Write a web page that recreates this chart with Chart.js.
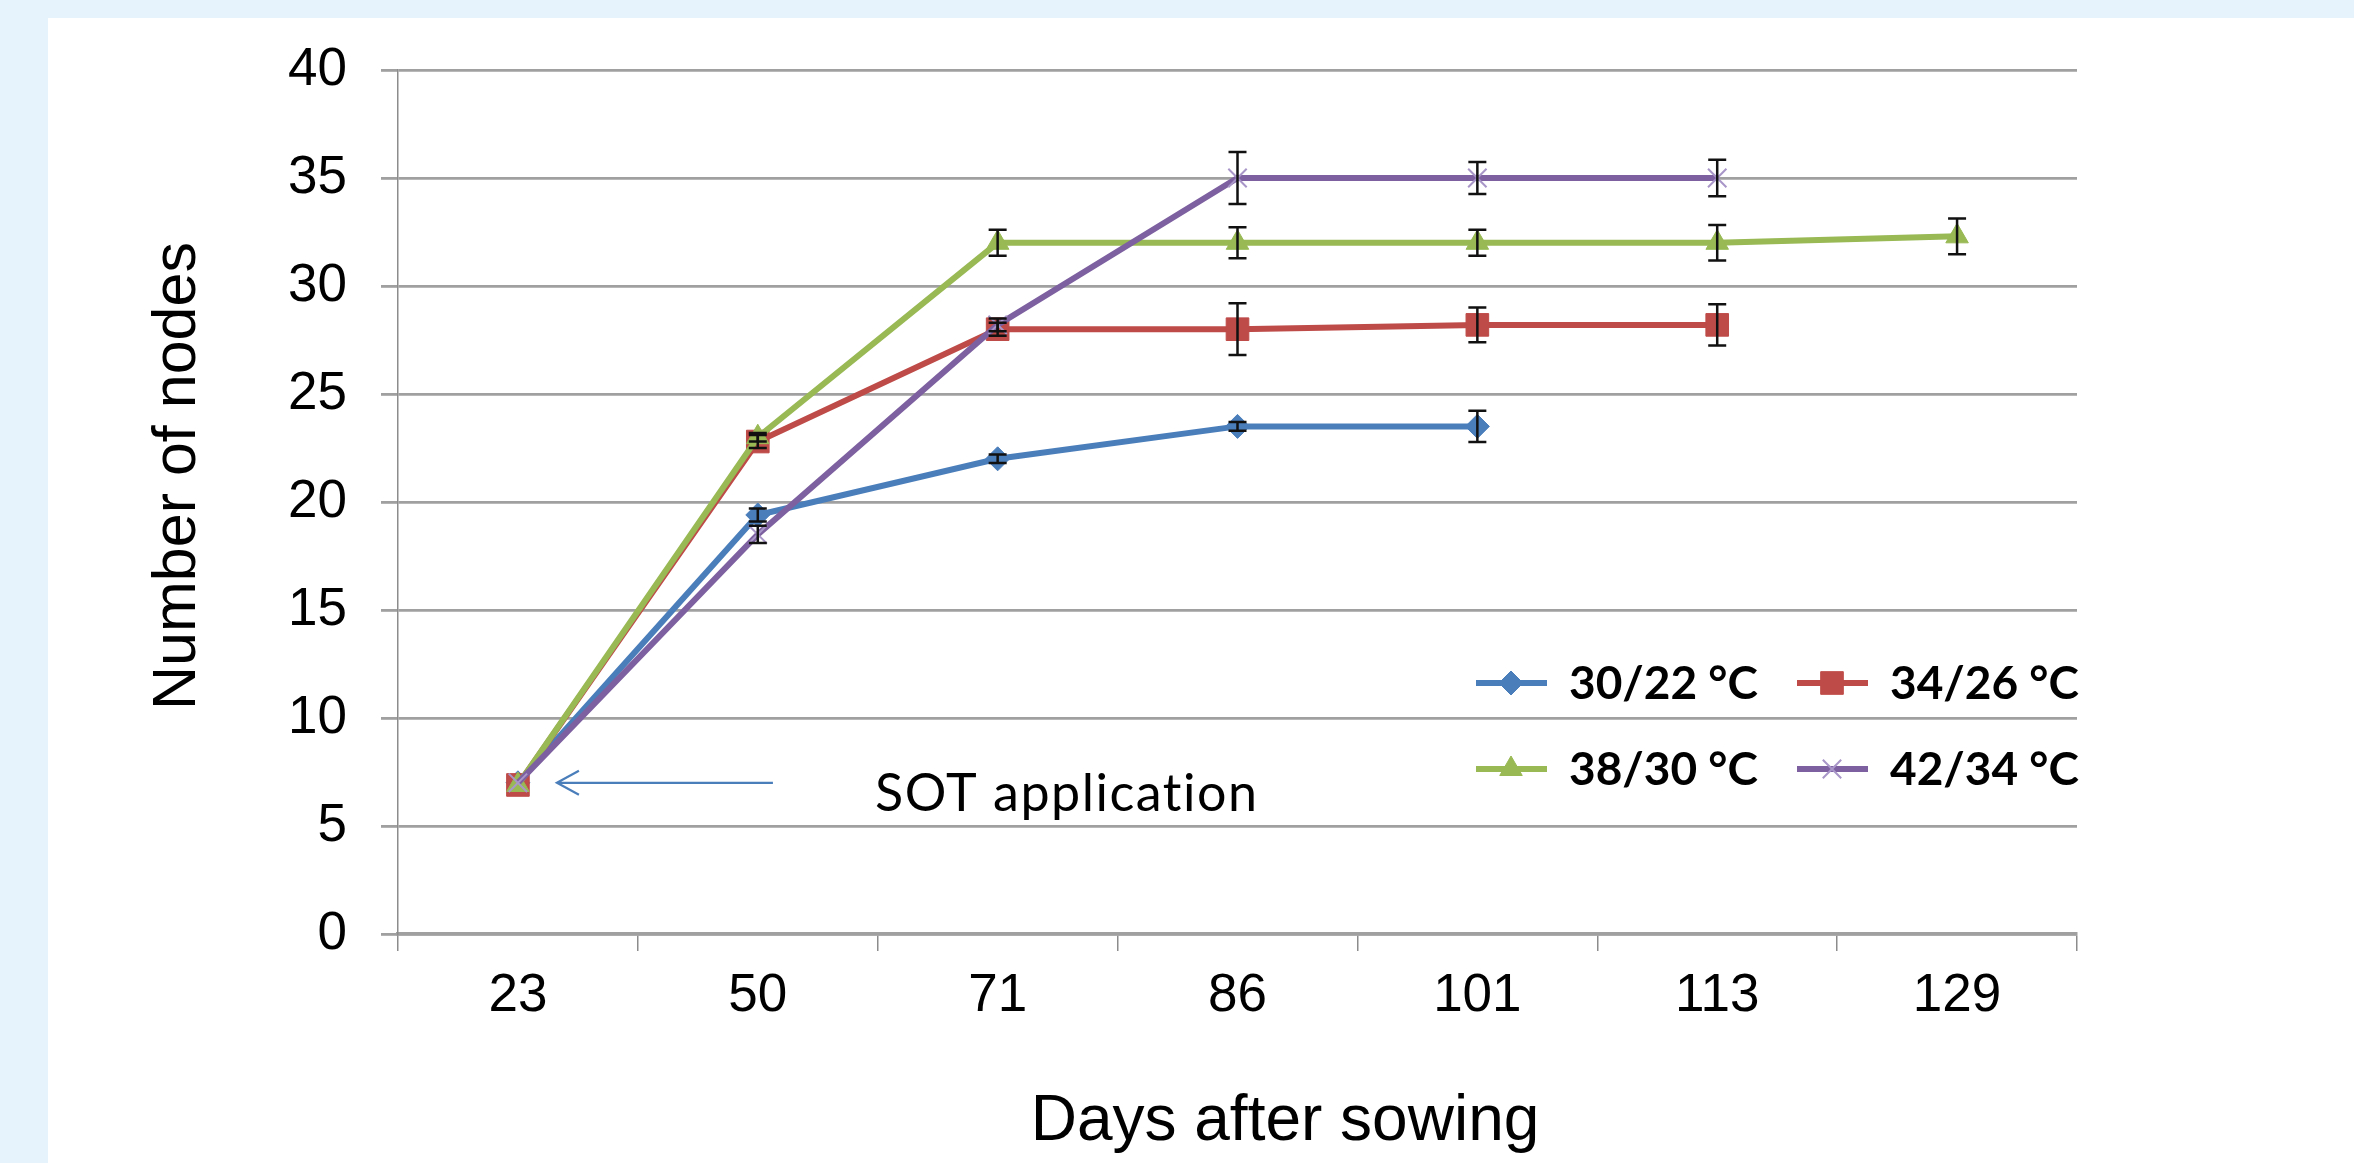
<!DOCTYPE html>
<html>
<head>
<meta charset="utf-8">
<script src="https://cdn.jsdelivr.net/npm/chart.js@4.4.0/dist/chart.umd.min.js"></script>
<style>
  html, body { margin: 0; padding: 0; background: #e6f3fc; overflow: hidden; }
  #wrap { position: relative; width: 2354px; height: 1163px; }
</style>
</head>
<body>
<div id="wrap"><canvas id="myChart"></canvas></div>
<script>
// days after sowing (x categories)
const days = ['23', '50', '71', '86', '101', '113', '129'];
const yTicks = [0, 5, 10, 15, 20, 25, 30, 35, 40];

const seriesNames = ['30/22 °C', '34/26 °C', '38/30 °C', '42/34 °C'];

// number of nodes per treatment, null = not measured
const nodes3022 = [7.0, 19.4, 22.0, 23.5, 23.5, null, null];
const nodes3426 = [6.9, 22.8, 28.0, 28.0, 28.2, 28.2, null];
const nodes3830 = [6.9, 23.0, 32.0, 32.0, 32.0, 32.0, 32.3];
const nodes4234 = [7.0, 18.5, 28.2, 35.0, 35.0, 35.0, null];

// error bar half heights
const err3022 = [0, 0.3, 0.2, 0.2, 0.72, null, null];
const err3426 = [0, 0.3, 0.3, 1.2, 0.8, 0.95, null];
const err3830 = [0, 0.2, 0.6, 0.72, 0.6, 0.82, 0.83];
const err4234 = [0, 0.4, 0.3, 1.2, 0.74, 0.84, null];

const colors = ['#4a7ebb', '#be4b48', '#98b954', '#7d60a0'];
const markers = ['rectRot', 'rect', 'triangle', 'crossRot'];
const markerSize = [12, 16, 13, 13];

const allNodes = [nodes3022, nodes3426, nodes3830, nodes4234];
const allErr = [err3022, err3426, err3830, err4234];

const ctx = document.getElementById('myChart').getContext('2d');

const datasets = allNodes.map((vals, i) => ({
    label: seriesNames[i],
    data: vals,
    errors: allErr[i],
    borderColor: colors[i],
    backgroundColor: colors[i],
    borderWidth: 6,
    pointStyle: markers[i],
    pointRadius: markerSize[i],
    pointBackgroundColor: colors[i],
    pointBorderColor: i === 3 ? '#a896c8' : colors[i],
    pointBorderWidth: i === 3 ? 2 : 1,
    tension: 0,
    order: 3 - i  // purple on top like the original
}));

// light blue frame + white sheet
const sheetPlugin = {
    id: 'sheet',
    beforeDraw(chart) {
        const c = chart.ctx;
        c.save();
        c.fillStyle = '#e6f3fc';
        c.fillRect(0, 0, chart.width, chart.height);
        c.fillStyle = '#ffffff';
        c.fillRect(48, 18, chart.width - 48, chart.height - 18);
        c.restore();
    }
};

// vertical error bars with caps
const errorBarPlugin = {
    id: 'errorBars',
    afterDatasetsDraw(chart) {
        const c = chart.ctx;
        const xs = chart.scales.x, ys = chart.scales.y;
        c.save();
        c.strokeStyle = '#111';
        c.lineWidth = 2.5;
        chart.data.datasets.forEach(ds => {
            ds.data.forEach((v, i) => {
                const e = ds.errors[i];
                if (v === null || !e) return;
                const x = xs.getPixelForValue(i);
                const y1 = ys.getPixelForValue(v + e);
                const y2 = ys.getPixelForValue(v - e);
                c.beginPath();
                c.moveTo(x, y1); c.lineTo(x, y2);
                c.moveTo(x - 9, y1); c.lineTo(x + 9, y1);
                c.moveTo(x - 9, y2); c.lineTo(x + 9, y2);
                c.stroke();
            });
        });
        c.restore();
    }
};

// axis titles, 2x2 legend and the SOT arrow
const textPlugin = {
    id: 'texts',
    afterDraw(chart) {
        const c = chart.ctx;
        const xs = chart.scales.x, ys = chart.scales.y;
        c.save();
        c.fillStyle = '#000';

        // axis titles
        c.font = '64px "Liberation Sans", Arial, sans-serif';
        c.textAlign = 'center';
        c.textBaseline = 'alphabetic';
        c.fillText('Days after sowing', 1285, 1140);

        c.save();
        c.translate(195, 476);
        c.rotate(-Math.PI / 2);
        c.font = '61px "Liberation Sans", Arial, sans-serif';
        c.fillText('Number of nodes', 0, 0);
        c.restore();

        // SOT application arrow, anchored at the first point
        const px = xs.getPixelForValue(0);
        const py = ys.getPixelForValue(nodes3022[0]);
        c.strokeStyle = colors[0];
        c.lineWidth = 2.2;
        c.beginPath();
        c.moveTo(px + 255, py);
        c.lineTo(px + 39, py);
        c.moveTo(px + 61, py - 12);
        c.lineTo(px + 39, py);
        c.lineTo(px + 61, py + 12);
        c.stroke();
        c.font = '52px Lato, "Open Sans", sans-serif';
        c.textAlign = 'left';
        c.letterSpacing = '1.5px';
        c.fillText('SOT application', px + 357, py + 28);
        c.letterSpacing = '0px';

        // legend
        const cols = [1476, 1797];
        const rows = [683, 769];
        c.font = 'bold 46px Lato, "Open Sans", sans-serif';
        chart.data.datasets.forEach((ds, i) => {
            const x0 = cols[i % 2], y0 = rows[Math.floor(i / 2)];
            c.strokeStyle = ds.borderColor;
            c.lineWidth = 6;
            c.beginPath();
            c.moveTo(x0, y0); c.lineTo(x0 + 71, y0);
            c.stroke();
            c.fillStyle = ds.pointBackgroundColor;
            c.strokeStyle = ds.pointBorderColor;
            c.lineWidth = ds.pointBorderWidth;
            Chart.helpers.drawPoint(c, {
                pointStyle: ds.pointStyle,
                radius: ds.pointRadius,
                rotation: 0,
                borderWidth: ds.pointBorderWidth
            }, x0 + 35, y0);
            c.fillStyle = '#000';
            c.fillText(ds.label, x0 + 93, y0 + 16);
        });
        c.restore();
    }
};

const config = {
    type: 'line',
    data: { labels: days, datasets: datasets },
    options: {
        responsive: true,
        maintainAspectRatio: false,
        animation: false,
        layout: { padding: { top: 70, right: 277, left: 0, bottom: 0 } },
        plugins: {
            legend: { display: false },
            tooltip: { enabled: false }
        },
        scales: {
            x: {
                type: 'category',
                offset: true,
                afterFit: (scale) => { scale.height = 229; },
                grid: {
                    offset: true,
                    drawOnChartArea: false,
                    drawTicks: true,
                    tickLength: 17,
                    color: '#8c8c8c',
                    lineWidth: 1.5
                },
                border: { display: true, color: '#a0a0a0', width: 3.5 },
                ticks: {
                    padding: 14,
                    color: '#000',
                    font: { family: '"Liberation Sans", Arial, sans-serif', size: 53 }
                }
            },
            y: {
                min: 0,
                max: 40,
                afterFit: (scale) => { scale.width = 398; },
                afterBuildTicks: (scale) => { scale.ticks = yTicks.map(v => ({ value: v })); },
                grid: {
                    drawTicks: true,
                    tickLength: 17,
                    color: '#a0a0a0',
                    lineWidth: 2.8
                },
                border: { display: true, color: '#8c8c8c', width: 1.5 },
                ticks: {
                    padding: 34,
                    color: '#000',
                    font: { family: '"Liberation Sans", Arial, sans-serif', size: 53 }
                }
            }
        }
    },
    plugins: [sheetPlugin, errorBarPlugin, textPlugin]
};

const myChart = new Chart(ctx, config);
</script>
</body>
</html>
